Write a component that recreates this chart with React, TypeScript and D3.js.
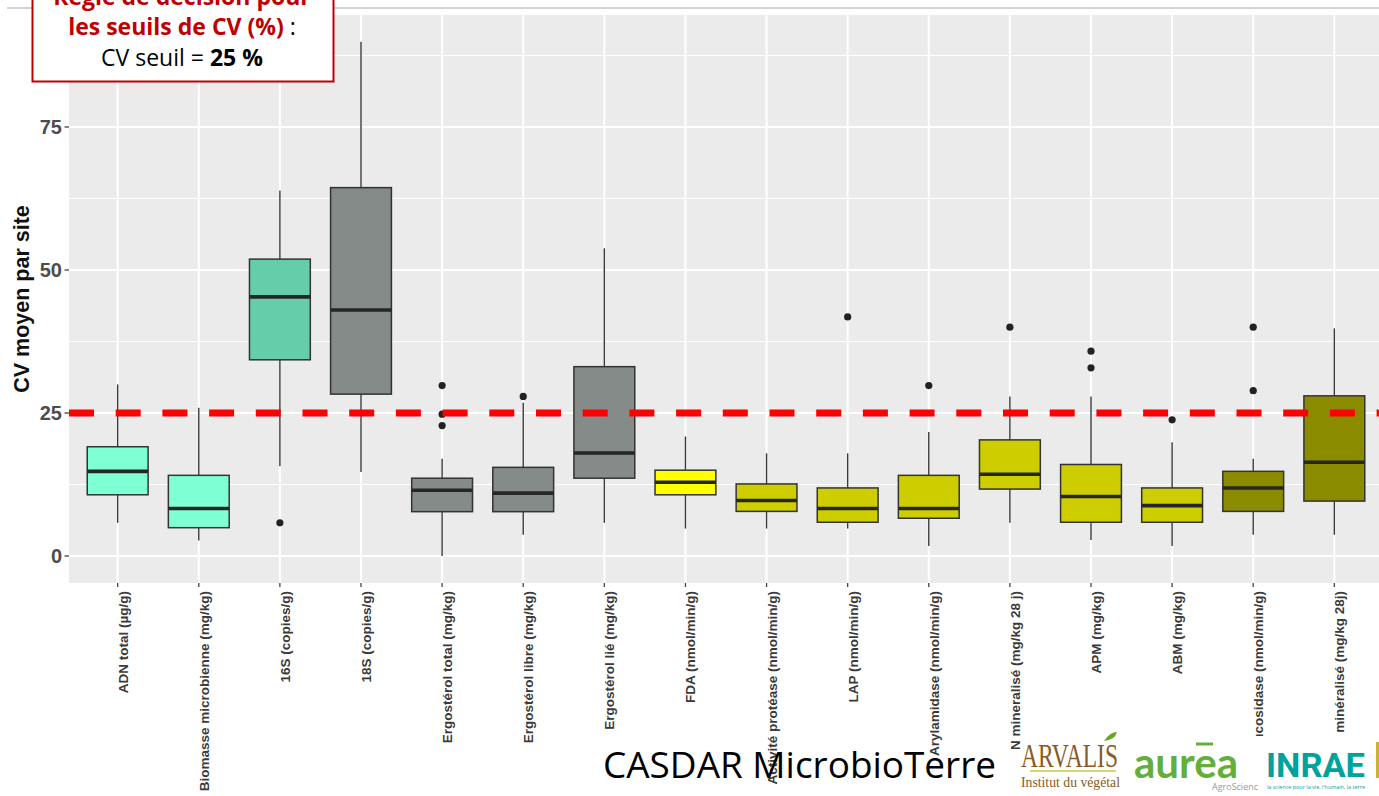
import React from 'react';
import * as d3 from 'd3';

const categories = [
  'ADN total (µg/g)',
  'Biomasse microbienne (mg/kg)',
  '16S (copies/g)',
  '18S (copies/g)',
  'Ergostérol total (mg/kg)',
  'Ergostérol libre (mg/kg)',
  'Ergostérol lié (mg/kg)',
  'FDA (nmol/min/g)',
  'Activité protéase (nmol/min/g)',
  'LAP (nmol/min/g)',
  'Arylamidase (nmol/min/g)',
  'N mineralisé (mg/kg 28 j)',
  'APM (mg/kg)',
  'ABM (mg/kg)',
  'β-glucosidase (nmol/min/g)',
  'C minéralisé (mg/kg 28j)',
];

const whiskerLow = [5.8, 2.7, 15.7, 14.7, 0, 3.7, 5.8, 4.8, 4.8, 4.8, 1.75, 5.8, 2.8, 1.75, 3.7, 3.7];
const q1 = [10.7, 4.95, 34.3, 28.3, 7.75, 7.75, 13.6, 10.7, 7.8, 5.9, 6.6, 11.7, 5.9, 5.9, 7.8, 9.6];
const median = [14.8, 8.3, 45.3, 43.0, 11.5, 11.0, 18.0, 12.9, 9.7, 8.3, 8.3, 14.3, 10.4, 8.8, 11.9, 16.4];
const q3 = [19.1, 14.1, 51.9, 64.4, 13.6, 15.5, 33.1, 15.0, 12.6, 11.9, 14.1, 20.3, 16.0, 11.9, 14.8, 28.0];
const whiskerHigh = [30.0, 25.9, 63.9, 89.9, 17.0, 26.8, 53.8, 20.9, 17.95, 17.95, 21.7, 27.9, 27.9, 19.9, 17.0, 39.8];
const outliers: number[][] = [
  [], [], [5.8], [], [29.8, 24.8, 22.8], [27.9], [], [], [], [41.8], [29.8], [40.0], [35.8, 32.9], [23.8], [40.0, 28.9], [],
];
const groups = ['dna', 'dna', 'bact', 'fungi', 'fungi', 'fungi', 'fungi', 'fda', 'enz', 'enz', 'enz', 'enz', 'enz', 'enz', 'late', 'late'];
const groupNames = ['dna', 'bact', 'fungi', 'fda', 'enz', 'late'];
const groupColors = ['#7FFFD4', '#66CDAA', '#858B89', '#FFFF00', '#CDCD00', '#8B8B00'];

const threshold = 25;
const yTicks = [0, 25, 50, 75];
const yMinor = [12.5, 37.5, 62.5, 87.5];

const W = 1379;
const H = 796;
const P = { left: 69, right: 1383, top: 15, bottom: 583 };

export default function App() {
  const x = d3.scalePoint<string>().domain(categories).range([P.left, P.right]).padding(0.6);
  const y = d3.scaleLinear().domain([-4.72, 94.58]).range([P.bottom, P.top]);
  const color = d3.scaleOrdinal<string, string>().domain(groupNames).range(groupColors);
  const boxW = x.step() * 0.75;
  const axisFont = "'Liberation Sans', Arial, sans-serif";
  const slideFont = "'Open Sans', 'Noto Sans', sans-serif";

  return (
    <svg width={W} height={H} style={{ position: 'absolute', left: 0, top: 0, background: '#fff' }}>
      <defs>
        <clipPath id="panel">
          <rect x={P.left} y={P.top} width={P.right - P.left} height={P.bottom - P.top} />
        </clipPath>
      </defs>
      <rect x={0} y={0} width={W} height={H} fill="#fff" />
      <line x1={7} x2={W} y1={8} y2={8} stroke="#c4c4c4" strokeWidth={1.5} />

      {/* panel */}
      <rect x={P.left} y={P.top} width={P.right - P.left} height={P.bottom - P.top} fill="#EBEBEB" />
      <g clipPath="url(#panel)">
        {yMinor.map((v) => (
          <line key={'mn' + v} x1={P.left} x2={P.right} y1={y(v)} y2={y(v)} stroke="#fff" strokeWidth={1} />
        ))}
        {yTicks.map((v) => (
          <line key={'mj' + v} x1={P.left} x2={P.right} y1={y(v)} y2={y(v)} stroke="#fff" strokeWidth={2} />
        ))}
        {categories.map((c) => (
          <line key={'vx' + c} x1={x(c)} x2={x(c)} y1={P.top} y2={P.bottom} stroke="#fff" strokeWidth={2} />
        ))}

        {categories.map((c, i) => {
          const cx = x(c) as number;
          return (
            <g key={'b' + c}>
              <line x1={cx} x2={cx} y1={y(whiskerHigh[i])} y2={y(q3[i])} stroke="#3a3a3a" strokeWidth={1.4} />
              <line x1={cx} x2={cx} y1={y(q1[i])} y2={y(whiskerLow[i])} stroke="#3a3a3a" strokeWidth={1.4} />
              <rect
                x={cx - boxW / 2}
                y={y(q3[i])}
                width={boxW}
                height={y(q1[i]) - y(q3[i])}
                fill={color(groups[i])}
                stroke="#333"
                strokeWidth={1.5}
              />
              <line x1={cx - boxW / 2} x2={cx + boxW / 2} y1={y(median[i])} y2={y(median[i])} stroke="#262626" strokeWidth={3.6} />
              {outliers[i].map((o, k) => (
                <circle key={k} cx={cx} cy={y(o)} r={3.6} fill="#222" />
              ))}
            </g>
          );
        })}

        <line
          x1={P.left}
          x2={P.right}
          y1={y(threshold)}
          y2={y(threshold)}
          stroke="#FF0000"
          strokeWidth={7}
          strokeDasharray="25 21.7"
        />
      </g>

      {/* y axis */}
      {yTicks.map((v) => (
        <g key={'yt' + v}>
          <line x1={64.5} x2={P.left} y1={y(v)} y2={y(v)} stroke="#444" strokeWidth={1.3} />
          <text x={62} y={y(v)} dy="0.36em" textAnchor="end" fontFamily={axisFont} fontWeight="bold" fontSize={20} fill="#4d4d4d">
            {v}
          </text>
        </g>
      ))}
      <text
        transform={`translate(29, ${(P.top + P.bottom) / 2}) rotate(-90)`}
        textAnchor="middle"
        fontFamily={axisFont}
        fontWeight="bold"
        fontSize={21.5}
        fill="#111"
      >
        CV moyen par site
      </text>

      {/* x axis */}
      {categories.map((c) => {
        const cx = x(c) as number;
        return (
          <g key={'xt' + c}>
            <line x1={cx} x2={cx} y1={P.bottom} y2={P.bottom + 4} stroke="#444" strokeWidth={1.3} />
            <text
              transform={`translate(${cx + 10}, 591) rotate(-90)`}
              textAnchor="end"
              fontFamily={axisFont}
              fontWeight="bold"
              fontSize={13.5}
              fill="#3a3a3a"
            >
              {c}
            </text>
          </g>
        );
      })}

      {/* annotation box */}
      <rect x={32.5} y={-10} width={301} height={91.5} fill="#fff" stroke="#C00000" strokeWidth={2} />
      <text x={182} y={5} textAnchor="middle" fontFamily={slideFont} fontSize={23} fontWeight="bold" fill="#C00000">
        Règle de décision pour
      </text>
      <text x={182} y={35} textAnchor="middle" fontFamily={slideFont} fontSize={23}>
        <tspan fontWeight="bold" fill="#C00000">les seuils de CV (%)</tspan>
        <tspan fill="#000"> :</tspan>
      </text>
      <text x={182} y={66} textAnchor="middle" fontFamily={slideFont} fontSize={23} fill="#000">
        <tspan>CV seuil = </tspan>
        <tspan fontWeight="bold">25 %</tspan>
      </text>

      {/* footer */}
      <rect x={1246} y={736} width={W - 1246} height={H - 736} fill="#fff" />
      <text x={603} y={778} fontFamily={slideFont} fontSize={37} fill="#000" textLength={393} lengthAdjust="spacingAndGlyphs">
        CASDAR MicrobioTerre
      </text>

      <text x={1021} y={767} fontFamily="'Liberation Serif', 'DejaVu Serif', serif" fontSize={33} fill="#8a5a22" textLength={97} lengthAdjust="spacingAndGlyphs">
        ARVALIS
      </text>
      <path d="M1104,741 q6,-9 13,-9 q-2,8 -13,9 z" fill="#6aa626" />
      <line x1={1030} x2={1116} y1={771} y2={771} stroke="#c3cc3a" strokeWidth={1.5} />
      <text x={1021} y={787} fontFamily="'Liberation Serif', 'DejaVu Serif', serif" fontSize={15} fill="#8a5a22" textLength={99} lengthAdjust="spacingAndGlyphs">
        Institut du végétal
      </text>

      <text x={1134} y={778} fontFamily="Lato, 'Open Sans', sans-serif" fontSize={42} fontWeight="bold" fill="#62b03a" textLength={104} lengthAdjust="spacingAndGlyphs">
        aurea
      </text>
      <line x1={1196} x2={1213} y1={744} y2={744} stroke="#62b03a" strokeWidth={3} />
      <text x={1212} y={790} fontFamily="'Open Sans', sans-serif" fontSize={9} fill="#9a9a9a" textLength={46} lengthAdjust="spacingAndGlyphs">
        AgroScienc
      </text>

      <text x={1266} y={777} fontFamily="Roboto, 'Liberation Sans', sans-serif" fontSize={34} fontWeight="bold" fill="#00a39c" textLength={99} lengthAdjust="spacingAndGlyphs">
        INRAE
      </text>
      <text x={1267} y={789} fontFamily="'Open Sans', sans-serif" fontSize={6} fill="#00a39c" textLength={98} lengthAdjust="spacingAndGlyphs">
        la science pour la vie, l'humain, la terre
      </text>
      <rect x={1376} y={742} width={3} height={36} fill="#c9b23a" />
    </svg>
  );
}
